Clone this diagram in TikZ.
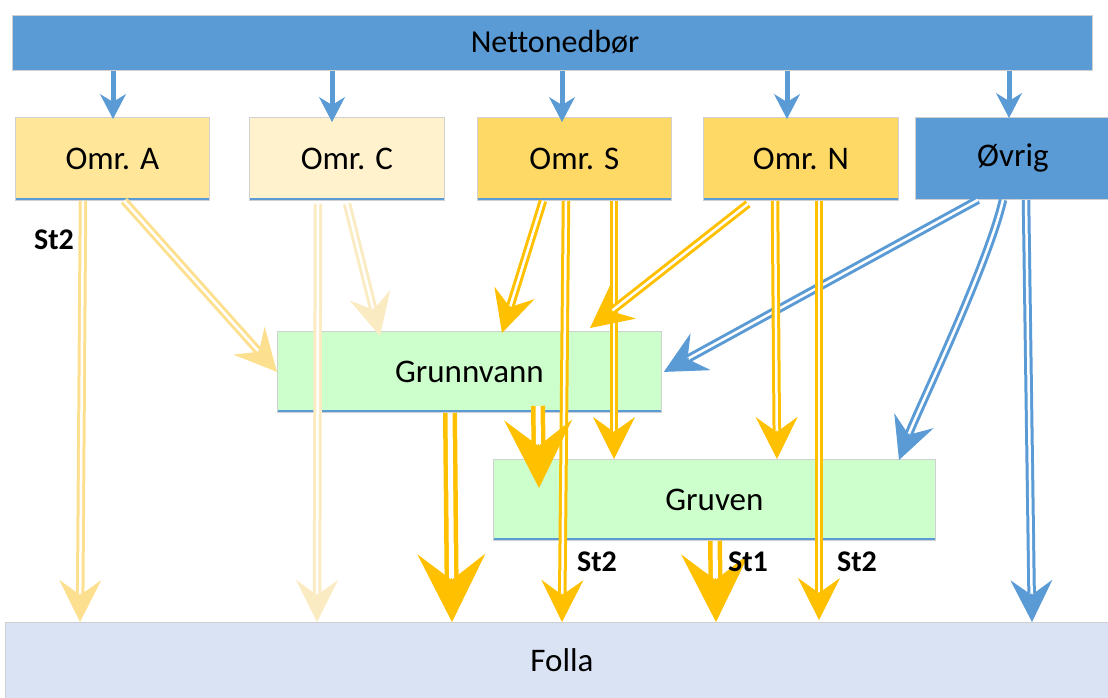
\documentclass[tikz,border=0pt]{standalone}
\usepackage{fontspec}
\setmainfont{Carlito}[Ligatures=NoCommon]
\usetikzlibrary{arrows.meta,calc}
\definecolor{cBlue}{HTML}{5B9BD5}
\definecolor{cA}{HTML}{FFE699}
\definecolor{cAarr}{HTML}{FDE08F}
\definecolor{cC}{HTML}{FFF2CC}
\definecolor{cCarr}{HTML}{FBEBC2}
\definecolor{cS}{HTML}{FFD966}
\definecolor{cOr}{HTML}{FFC000}
\definecolor{cGreen}{HTML}{CCFFCC}
\definecolor{cFolla}{HTML}{DAE3F3}
\definecolor{cEdge}{HTML}{D0D0D0}
\newcommand\flow[4]{%
  \draw[#1tip,color=#2] #3 -- #4;
  \draw[#1shaft,color=#2] #3 -- #4;}
\tikzset{
  box/.style={draw=cEdge, line width=0.8pt, inner sep=0pt, anchor=north west,
    font=\fontsize{33}{38}\selectfont, text=black},
  bl/.style={path picture={\draw[cBlue,line width=1.3pt]
    ([yshift=1.5pt]path picture bounding box.south west) --
    ([yshift=1.5pt]path picture bounding box.south east);}},
  lbl/.style={font=\bfseries\fontsize{30}{34}\selectfont, text=black, inner sep=0pt},
  thintip/.style={line width=1pt, -{Stealth[length=42pt,width=42pt,inset=15pt]}},
  thinshaft/.style={line width=3pt, double=white, double distance=2.5pt, shorten >=28.5pt},
  bigtip/.style={line width=1pt, -{Stealth[length=68pt,width=68pt,inset=26pt]}},
  bigshaft/.style={line width=4.5pt, double=white, double distance=5pt, shorten >=44pt},
  bluetip/.style={line width=1pt, -{Stealth[length=25pt,width=26pt,inset=8pt]}},
  blueshaft/.style={line width=5pt, shorten >=14pt},
}
\begin{document}
\begin{tikzpicture}[x=1pt,y=-1pt]
\useasboundingbox (0,0) rectangle (1108,697);
\clip (0,0) rectangle (1108,697);
% boxes
\node[box, fill=cBlue, minimum width=1080pt, minimum height=55pt] (net) at (12,15) {};
\node[font=\fontsize{32}{38}\selectfont] (nettxt) at (555,42) {Nettonedbør};
\node[box, bl, fill=cA, minimum width=194pt, minimum height=83pt] (omrA) at (15,117) {Omr. A};
\node[box, bl, fill=cC, minimum width=195pt, minimum height=83pt] (omrC) at (249,117) {Omr. C};
\node[box, bl, fill=cS, minimum width=194pt, minimum height=83pt] (omrS) at (477,117) {Omr. S};
\node[box, bl, fill=cS, minimum width=195pt, minimum height=83pt] (omrN) at (703,117) {Omr. N};
\node[box, fill=cBlue, minimum width=195pt, minimum height=82pt] (ovrig) at (915,117) {Øvrig};
\node[box, bl, fill=cGreen, minimum width=384pt, minimum height=81pt] (grunn) at (277,331) {Grunnvann};
\node[box, bl, fill=cGreen, minimum width=442pt, minimum height=81pt] (gruven) at (493,459) {Gruven};
\node[box, fill=cFolla, draw=cEdge, minimum width=1110pt, minimum height=80pt] (folla) at (5,622) {};
\node[font=\fontsize{33}{38}\selectfont] (follatxt) at (562,660) {Folla};
% blue arrows from Nettonedbør
\flow{blue}{cBlue}{([xshift=101pt]net.south west)}{([xshift=98pt,yshift=-2pt]omrA.north west)}
\flow{blue}{cBlue}{([xshift=320pt]net.south west)}{([xshift=83pt,yshift=-5pt]omrC.north west)}
\flow{blue}{cBlue}{([xshift=550pt]net.south west)}{([xshift=85pt,yshift=-5pt]omrS.north west)}
\flow{blue}{cBlue}{([xshift=775pt]net.south west)}{([xshift=84pt,yshift=-2pt]omrN.north west)}
\flow{blue}{cBlue}{([xshift=997pt]net.south west)}{([xshift=94pt,yshift=-1pt]ovrig.north west)}
% Øvrig flows
\flow{thin}{cBlue}{([xshift=63pt]ovrig.south west)}{([xshift=2pt]grunn.east)}
\draw[thintip,color=cBlue] ([xshift=88pt]ovrig.south west) .. controls (988,265) and (918,410) .. ([xshift=406pt,yshift=-1pt]gruven.north west);
\draw[thinshaft,color=cBlue] ([xshift=88pt]ovrig.south west) .. controls (988,265) and (918,410) .. ([xshift=406pt,yshift=-1pt]gruven.north west);
\flow{thin}{cBlue}{([xshift=111pt]ovrig.south west)}{([xshift=1027pt]folla.north west)}
% Omr. A
\flow{thin}{cAarr}{([xshift=68pt]omrA.south west)}{([xshift=75pt]folla.north west)}
\flow{thin}{cAarr}{([xshift=109pt]omrA.south west)}{(grunn.west)}
% Omr. C
\flow{thin}{cCarr}{([xshift=69pt,yshift=-3pt]omrC.south west)}{([xshift=312pt]folla.north west)}
\flow{thin}{cCarr}{([xshift=98pt,yshift=-3pt]omrC.south west)}{([xshift=103pt,yshift=-5pt]grunn.north west)}
% Omr. S
\flow{thin}{cOr}{([xshift=66pt]omrS.south west)}{([xshift=225pt,yshift=-2pt]grunn.north west)}
\flow{thin}{cOr}{([xshift=89pt]omrS.south west)}{([xshift=557pt]folla.north west)}
\flow{thin}{cOr}{([xshift=137pt]omrS.south west)}{([xshift=121pt]gruven.north west)}
% Omr. N
\flow{thin}{cOr}{([xshift=45pt,yshift=-3pt]omrN.south west)}{([xshift=313pt,yshift=3pt]grunn.north west)}
\flow{thin}{cOr}{([xshift=72pt]omrN.south west)}{([xshift=284pt]gruven.north west)}
\flow{thin}{cOr}{([xshift=116pt]omrN.south west)}{([xshift=814pt,yshift=2pt]folla.north west)}
% Grunnvann and Gruven
\flow{big}{cOr}{([xshift=173pt]grunn.south west)}{([xshift=447pt]folla.north west)}
\flow{big}{cOr}{([xshift=261pt,yshift=7pt]grunn.south west)}{([xshift=46pt,yshift=-29pt]gruven.north west)}
\flow{big}{cOr}{([xshift=222pt]gruven.south west)}{([xshift=711pt]folla.north west)}
% labels
\node[lbl] (l1) at (54,240) {St2};
\node[lbl] (l2) at (597,562) {St2};
\node[lbl] (l3) at (748,562) {St1};
\node[lbl] (l4) at (857,562) {St2};
\end{tikzpicture}
\end{document}
